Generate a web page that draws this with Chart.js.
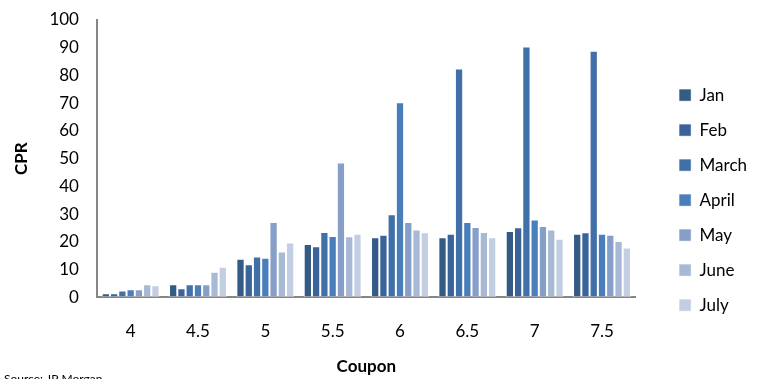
<!DOCTYPE html>
<html>
<head>
<meta charset="utf-8">
<script src="https://cdn.jsdelivr.net/npm/chart.js@4"></script>
<style>
html,body{margin:0;padding:0;background:#fff;}
canvas{display:block;}
</style>
</head>
<body>
<canvas id="c" width="763" height="379"></canvas>
<script>
const coupons = ["4","4.5","5","5.5","6","6.5","7","7.5"];
const jan   = [1.4, 4.7, 13.9, 19.2, 21.6, 21.6, 23.9, 22.9];
const feb   = [1.4, 3.2, 11.9, 18.4, 22.5, 22.9, 25.2, 23.4];
const march = [2.4, 4.7, 14.7, 23.5, 29.9, 82.5, 90.4, 88.9];
const april = [2.9, 4.7, 14.2, 22.1, 70.3, 27.1, 28.0, 22.9];
const may   = [2.9, 4.7, 27.1, 48.6, 27.1, 25.3, 25.7, 22.5];
const june  = [4.7, 9.2, 16.5, 22.0, 24.4, 23.5, 24.4, 20.3];
const july  = [4.3, 11.0, 19.7, 22.9, 23.4, 21.6, 21.1, 17.9];
const seriesNames = ["Jan","Feb","March","April","May","June","July"];
const seriesData = [jan, feb, march, april, may, june, july];
const seriesColors = ["#345A86","#3A6399","#4170A8","#4A7EBB","#869FC8","#A8B9D5","#C3CEE2"];
const yTicks = [0,10,20,30,40,50,60,70,80,90,100];
const sourceText = "Source: JP Morgan";

const FONT = "Lato, 'Open Sans', sans-serif";

const sourcePlugin = {
  id: 'sourceText',
  afterDraw(chart) {
    const ctx = chart.ctx;
    ctx.save();
    ctx.font = "12px " + FONT;
    ctx.fillStyle = "#000";
    ctx.textBaseline = "alphabetic";
    ctx.textAlign = "left";
    ctx.fillText(sourceText, 4, 383);
    ctx.restore();
  }
};

new Chart(document.getElementById('c'), {
  type: 'bar',
  data: {
    labels: coupons,
    datasets: seriesNames.map((n, i) => ({
      label: n,
      data: seriesData[i],
      backgroundColor: seriesColors[i],
      borderColor: 'rgba(255,255,255,0.45)',
      borderWidth: 1,
      borderSkipped: false,
      categoryPercentage: 0.86,
      barPercentage: 1.0
    }))
  },
  options: {
    responsive: false,
    animation: false,
    layout: { padding: { left: 3, right: 6, top: 4, bottom: 2 } },
    plugins: {
      legend: {
        position: 'right',
        title: { display: true, text: ' ', font: { size: 1 }, padding: { top: 18, bottom: 0 } },
        labels: {
          boxWidth: 12,
          boxHeight: 12,
          padding: 18,
          color: '#000',
          font: { family: FONT, size: 17 }
        }
      },
      tooltip: { enabled: false }
    },
    scales: {
      x: {
        grid: { display: false, drawTicks: false },
        border: { color: '#868686', width: 2 },
        ticks: { color: '#000', font: { family: FONT, size: 17 }, padding: 24 },
        title: { display: true, text: 'Coupon', color: '#000', font: { family: FONT, size: 17, weight: 'bold' }, padding: { top: -9, bottom: 0 } }
      },
      y: {
        min: 0, max: 100,
        afterBuildTicks(axis) { axis.ticks = yTicks.map(v => ({ value: v })); },
        afterFit(scale) { scale.paddingTop = 20; },
        grid: { display: false, drawTicks: false },
        border: { color: '#868686', width: 2 },
        ticks: { color: '#000', font: { family: FONT, size: 17 }, padding: 18 },
        title: { display: true, text: 'CPR', color: '#000', font: { family: FONT, size: 17, weight: 'bold' }, padding: { top: 8, bottom: 0 } }
      },
      gap: {
        position: 'right',
        display: true,
        min: 0, max: 1,
        grid: { display: false, drawTicks: false },
        border: { display: false },
        ticks: { display: false },
        afterFit(scale) { scale.width = 25.4; }
      }
    }
  },
  plugins: [sourcePlugin]
});
</script>
</body>
</html>
